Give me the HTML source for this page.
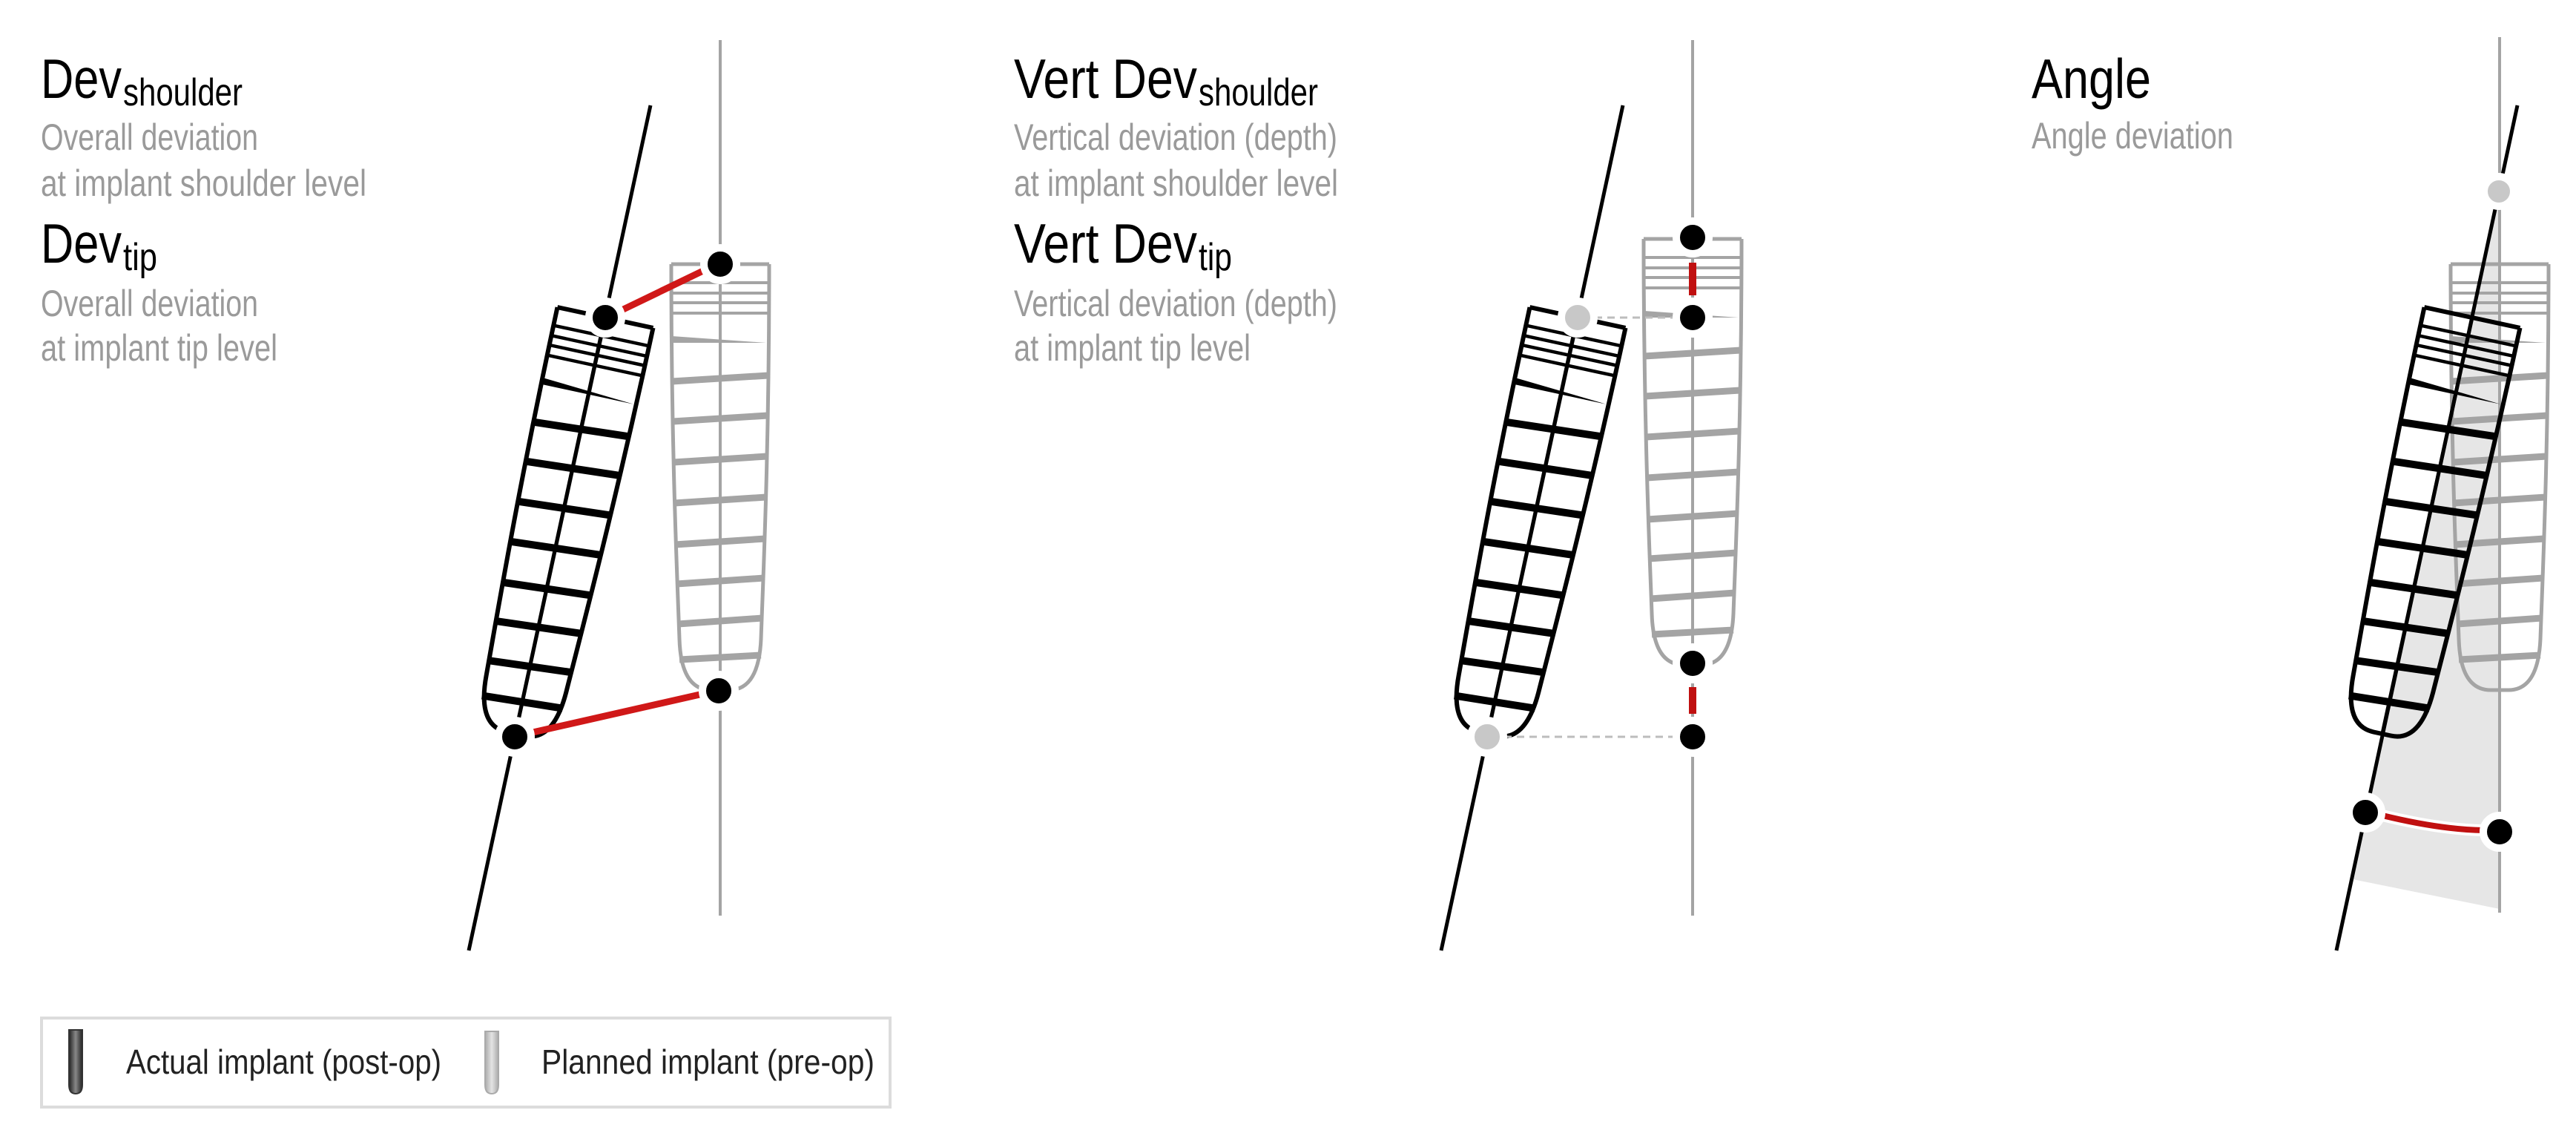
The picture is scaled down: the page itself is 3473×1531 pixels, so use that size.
<!DOCTYPE html>
<html><head><meta charset="utf-8">
<style>
html,body{margin:0;padding:0;background:#fff;}
svg{display:block;}
text{font-family:"Liberation Sans",Arial,sans-serif;}
</style></head>
<body>
<svg width="3473" height="1531" viewBox="0 0 3473 1531" xmlns="http://www.w3.org/2000/svg">
<defs>
  <g id="impBlack" fill="none" stroke="#000" stroke-linecap="butt">
    <path d="M-66,0 L66,0 M-66,0 C-66,250 -58,420 -55,505 Q-53,574 -12,574 L12,574 Q52,574 55,505 C58,420 66,250 66,0" stroke-width="6"/>
    <g stroke-width="4.5">
      <line x1="-66" y1="25" x2="66" y2="25"/>
      <line x1="-66" y1="39" x2="66" y2="39"/>
      <line x1="-66" y1="52" x2="66" y2="52"/>
      <line x1="-66" y1="66" x2="66" y2="66"/>
    </g>
    <polygon points="-65,97 62,106 -65,106" fill="#000" stroke="none"/>
    <g stroke-width="10">
      <line x1="-65" y1="158" x2="65" y2="150"/>
      <line x1="-64" y1="212" x2="64" y2="204"/>
      <line x1="-63" y1="267" x2="63" y2="259"/>
      <line x1="-62" y1="322" x2="62" y2="314"/>
      <line x1="-61" y1="378" x2="61" y2="370"/>
      <line x1="-59" y1="431" x2="59" y2="423"/>
      <line x1="-57" y1="485" x2="57" y2="477"/>
      <line x1="-55" y1="533" x2="55" y2="527"/>
    </g>
    <line x1="0" y1="0" x2="0" y2="574" stroke-width="5"/>
  </g>
  <g id="impGray" fill="none" stroke="#a4a4a4" stroke-linecap="butt">
    <path d="M-66,0 L66,0 M-66,0 C-66,250 -58,420 -55,505 Q-53,574 -12,574 L12,574 Q52,574 55,505 C58,420 66,250 66,0" stroke-width="5"/>
    <g stroke-width="4">
      <line x1="-66" y1="25" x2="66" y2="25"/>
      <line x1="-66" y1="39" x2="66" y2="39"/>
      <line x1="-66" y1="52" x2="66" y2="52"/>
      <line x1="-66" y1="66" x2="66" y2="66"/>
    </g>
    <polygon points="-65,97 62,106 -65,106" fill="#a4a4a4" stroke="none"/>
    <g stroke-width="9">
      <line x1="-65" y1="158" x2="65" y2="150"/>
      <line x1="-64" y1="212" x2="64" y2="204"/>
      <line x1="-63" y1="267" x2="63" y2="259"/>
      <line x1="-62" y1="322" x2="62" y2="314"/>
      <line x1="-61" y1="378" x2="61" y2="370"/>
      <line x1="-59" y1="431" x2="59" y2="423"/>
      <line x1="-57" y1="485" x2="57" y2="477"/>
      <line x1="-55" y1="533" x2="55" y2="527"/>
    </g>
  </g>
  <linearGradient id="gBlack" x1="0" x2="1" y1="0" y2="0">
    <stop offset="0" stop-color="#222"/><stop offset="0.5" stop-color="#888"/><stop offset="1" stop-color="#222"/>
  </linearGradient>
  <linearGradient id="gGray" x1="0" x2="1" y1="0" y2="0">
    <stop offset="0" stop-color="#aaa"/><stop offset="0.5" stop-color="#e4e4e4"/><stop offset="1" stop-color="#aaa"/>
  </linearGradient>
</defs>

<!-- ================= PANEL 1 ================= -->
<text x="55" y="132" font-size="75" textLength="109" lengthAdjust="spacingAndGlyphs">Dev</text>
<text x="166" y="142" font-size="52" textLength="161" lengthAdjust="spacingAndGlyphs">shoulder</text>
<text x="55" y="202" font-size="50" fill="#9a9a9a" textLength="293" lengthAdjust="spacingAndGlyphs">Overall deviation</text>
<text x="55" y="264" font-size="50" fill="#9a9a9a" textLength="439" lengthAdjust="spacingAndGlyphs">at implant shoulder level</text>
<text x="55" y="354" font-size="75" textLength="109" lengthAdjust="spacingAndGlyphs">Dev</text>
<text x="166" y="364" font-size="52" textLength="46" lengthAdjust="spacingAndGlyphs">tip</text>
<text x="55" y="426" font-size="50" fill="#9a9a9a" textLength="293" lengthAdjust="spacingAndGlyphs">Overall deviation</text>
<text x="55" y="486" font-size="50" fill="#9a9a9a" textLength="319" lengthAdjust="spacingAndGlyphs">at implant tip level</text>

<line x1="971" y1="54" x2="971" y2="1234" stroke="#a4a4a4" stroke-width="4"/>
<use href="#impGray" transform="translate(971,356)"/>
<line x1="877" y1="142" x2="632" y2="1281" stroke="#000" stroke-width="5"/>
<use href="#impBlack" transform="translate(816,428) rotate(12.18)"/>
<line x1="834" y1="420" x2="952" y2="363" stroke="#d01818" stroke-width="9"/>
<line x1="714" y1="988" x2="948" y2="935" stroke="#d01818" stroke-width="9"/>
<g fill="#000" stroke="#fff" stroke-width="10">
  <circle cx="816" cy="428" r="22"/>
  <circle cx="971" cy="356" r="22"/>
  <circle cx="694" cy="993" r="22"/>
  <circle cx="969" cy="931" r="22"/>
</g>

<!-- ================= PANEL 2 ================= -->
<text x="1367" y="132" font-size="75" textLength="247" lengthAdjust="spacingAndGlyphs">Vert Dev</text>
<text x="1616" y="142" font-size="52" textLength="161" lengthAdjust="spacingAndGlyphs">shoulder</text>
<text x="1367" y="202" font-size="50" fill="#9a9a9a" textLength="436" lengthAdjust="spacingAndGlyphs">Vertical deviation (depth)</text>
<text x="1367" y="264" font-size="50" fill="#9a9a9a" textLength="437" lengthAdjust="spacingAndGlyphs">at implant shoulder level</text>
<text x="1367" y="354" font-size="75" textLength="247" lengthAdjust="spacingAndGlyphs">Vert Dev</text>
<text x="1616" y="364" font-size="52" textLength="45" lengthAdjust="spacingAndGlyphs">tip</text>
<text x="1367" y="426" font-size="50" fill="#9a9a9a" textLength="436" lengthAdjust="spacingAndGlyphs">Vertical deviation (depth)</text>
<text x="1367" y="486" font-size="50" fill="#9a9a9a" textLength="319" lengthAdjust="spacingAndGlyphs">at implant tip level</text>

<line x1="2282" y1="54" x2="2282" y2="1234" stroke="#a4a4a4" stroke-width="4"/>
<use href="#impGray" transform="translate(2282,322)"/>
<line x1="2188" y1="142" x2="1943" y2="1281" stroke="#000" stroke-width="5"/>
<use href="#impBlack" transform="translate(2127,428) rotate(12.18)"/>
<line x1="2150" y1="428" x2="2258" y2="428" stroke="#bdbdbd" stroke-width="3" stroke-dasharray="10 7"/>
<line x1="2028" y1="993" x2="2258" y2="993" stroke="#bdbdbd" stroke-width="3" stroke-dasharray="10 7"/>
<line x1="2282" y1="354" x2="2282" y2="398" stroke="#c01010" stroke-width="10"/>
<line x1="2282" y1="926" x2="2282" y2="962" stroke="#c01010" stroke-width="10"/>
<g stroke="#fff" stroke-width="10">
  <circle cx="2127" cy="428" r="22" fill="#c8c8c8"/>
  <circle cx="2005" cy="993" r="22" fill="#c8c8c8"/>
  <circle cx="2282" cy="320" r="22" fill="#000"/>
  <circle cx="2282" cy="428" r="22" fill="#000"/>
  <circle cx="2282" cy="894" r="22" fill="#000"/>
  <circle cx="2282" cy="993" r="22" fill="#000"/>
</g>

<!-- ================= PANEL 3 ================= -->
<text x="2739" y="132" font-size="75" textLength="161" lengthAdjust="spacingAndGlyphs">Angle</text>
<text x="2739" y="200" font-size="50" fill="#9a9a9a" textLength="272" lengthAdjust="spacingAndGlyphs">Angle deviation</text>

<polygon points="3369,258 3172,1185 3370,1225" fill="#e6e6e6"/>
<line x1="3370" y1="50" x2="3370" y2="1230" stroke="#a4a4a4" stroke-width="4"/>
<use href="#impGray" transform="translate(3370,356)"/>
<line x1="3394" y1="142" x2="3150" y2="1281" stroke="#000" stroke-width="5"/>
<use href="#impBlack" transform="translate(3333,428) rotate(12.18)"/>
<path d="M3212,1099 Q3290,1118 3348,1119" fill="none" stroke="#fff" stroke-width="16"/>
<path d="M3212,1099 Q3290,1118 3348,1119" fill="none" stroke="#c01010" stroke-width="8"/>
<g stroke="#fff" stroke-width="10">
  <circle cx="3369" cy="258" r="20" fill="#c8c8c8"/>
  <circle cx="3189" cy="1095" r="22" fill="#000"/>
  <circle cx="3370" cy="1121" r="22" fill="#000"/>
</g>

<!-- ================= LEGEND ================= -->
<rect x="56" y="1372" width="1144" height="120" fill="#fff" stroke="#dcdcdc" stroke-width="4"/>
<path d="M93,1388 L111,1388 L111,1462 Q111,1474 102,1474 Q93,1474 93,1462 Z" fill="url(#gBlack)" stroke="#333" stroke-width="2"/>
<text x="170" y="1447" font-size="46" fill="#222" textLength="425" lengthAdjust="spacingAndGlyphs">Actual implant (post-op)</text>
<path d="M654,1390 L672,1390 L672,1462 Q672,1474 663,1474 Q654,1474 654,1462 Z" fill="url(#gGray)" stroke="#aaa" stroke-width="2"/>
<text x="730" y="1447" font-size="46" fill="#222" textLength="449" lengthAdjust="spacingAndGlyphs">Planned implant (pre-op)</text>
</svg>
</body></html>
